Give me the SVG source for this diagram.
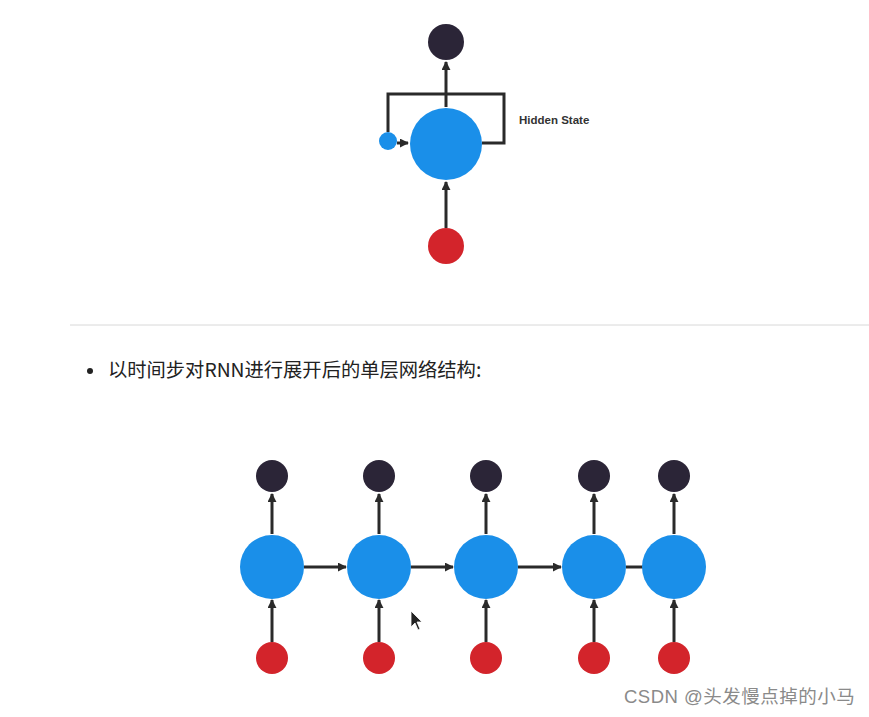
<svg xmlns="http://www.w3.org/2000/svg" width="869" height="717" viewBox="0 0 869 717">
<style>
.out{fill:#2b2537}
.hid{fill:#1a8fe9}
.inp{fill:#d3242b}
.ln{stroke:#2a2a2a;stroke-width:3;fill:none}
.lbl{font-family:"Liberation Sans",Arial,sans-serif;font-weight:bold;font-size:11.5px;fill:#333}
.cn{font-family:"Noto Sans CJK SC","Noto Sans",sans-serif;font-size:19.3px;fill:#222}
.wm{font-family:"Liberation Sans","Noto Sans CJK SC",sans-serif;font-size:18.5px;fill:#8a8a8a;letter-spacing:0.5px}
</style>
<defs>
<marker id="ah" viewBox="0 0 10 10" refX="9" refY="5" markerWidth="3" markerHeight="3" orient="auto" markerUnits="strokeWidth">
<path d="M0,0 L10,5 L0,10 z" fill="#2a2a2a"/>
</marker>
</defs>
<rect width="869" height="717" fill="#ffffff"/>

<g id="connectors">
<line class="ln" x1="446" y1="107" x2="446" y2="62" marker-end="url(#ah)"/>
<line class="ln" x1="446" y1="228" x2="446" y2="182" marker-end="url(#ah)"/>
<path class="ln" d="M482,143 H504 V94 H388 V132"/>
<line class="ln" x1="397" y1="143" x2="408" y2="143" marker-end="url(#ah)"/>
<line class="ln" x1="272" y1="534" x2="272" y2="494" marker-end="url(#ah)"/>
<line class="ln" x1="379" y1="534" x2="379" y2="494" marker-end="url(#ah)"/>
<line class="ln" x1="486" y1="534" x2="486" y2="494" marker-end="url(#ah)"/>
<line class="ln" x1="594" y1="534" x2="594" y2="494" marker-end="url(#ah)"/>
<line class="ln" x1="674" y1="534" x2="674" y2="494" marker-end="url(#ah)"/>
<line class="ln" x1="272" y1="642" x2="272" y2="600" marker-end="url(#ah)"/>
<line class="ln" x1="379" y1="642" x2="379" y2="600" marker-end="url(#ah)"/>
<line class="ln" x1="486" y1="642" x2="486" y2="600" marker-end="url(#ah)"/>
<line class="ln" x1="594" y1="642" x2="594" y2="600" marker-end="url(#ah)"/>
<line class="ln" x1="674" y1="642" x2="674" y2="600" marker-end="url(#ah)"/>
<line class="ln" x1="304" y1="567" x2="346" y2="567" marker-end="url(#ah)"/>
<line class="ln" x1="411" y1="567" x2="453" y2="567" marker-end="url(#ah)"/>
<line class="ln" x1="518" y1="567" x2="561" y2="567" marker-end="url(#ah)"/>
<line class="ln" x1="626" y1="567" x2="643" y2="567"/>
</g>

<g id="top-output"><circle class="out" cx="446" cy="42" r="18"/></g>
<g id="top-hidden"><circle class="hid" cx="446" cy="144" r="36"/></g>
<g id="top-state"><circle class="hid" cx="388" cy="141" r="9"/></g>
<g id="top-input"><circle class="inp" cx="446" cy="246" r="18"/></g>
<g id="hidden-state-label"><text class="lbl" x="519" y="124">Hidden State</text></g>

<line x1="70" y1="325" x2="869" y2="325" stroke="#d8d8d8" stroke-width="1"/>
<circle cx="90" cy="371" r="3" fill="#222"/>
<text class="cn" x="108" y="377">以时间步对RNN进行展开后的单层网络结构:</text>

<g id="out1"><circle class="out" cx="272" cy="476" r="16"/></g>
<g id="out2"><circle class="out" cx="379" cy="476" r="16"/></g>
<g id="out3"><circle class="out" cx="486" cy="476" r="16"/></g>
<g id="out4"><circle class="out" cx="594" cy="476" r="16"/></g>
<g id="out5"><circle class="out" cx="674" cy="476" r="16"/></g>
<g id="hid1"><circle class="hid" cx="272" cy="567" r="32"/></g>
<g id="hid2"><circle class="hid" cx="379" cy="567" r="32"/></g>
<g id="hid3"><circle class="hid" cx="486" cy="567" r="32"/></g>
<g id="hid4"><circle class="hid" cx="594" cy="567" r="32"/></g>
<g id="hid5"><circle class="hid" cx="674" cy="567" r="32"/></g>
<g id="in1"><circle class="inp" cx="272" cy="658" r="16"/></g>
<g id="in2"><circle class="inp" cx="379" cy="658" r="16"/></g>
<g id="in3"><circle class="inp" cx="486" cy="658" r="16"/></g>
<g id="in4"><circle class="inp" cx="594" cy="658" r="16"/></g>
<g id="in5"><circle class="inp" cx="674" cy="658" r="16"/></g>

<path d="M411,611 L411,627 L415,623 L418,630 L420,629 L417,622 L422,622 Z" fill="#222" stroke="#fff" stroke-width="0.8"/>

<text class="wm" x="624" y="703">CSDN @头发慢点掉的小马</text>
</svg>
